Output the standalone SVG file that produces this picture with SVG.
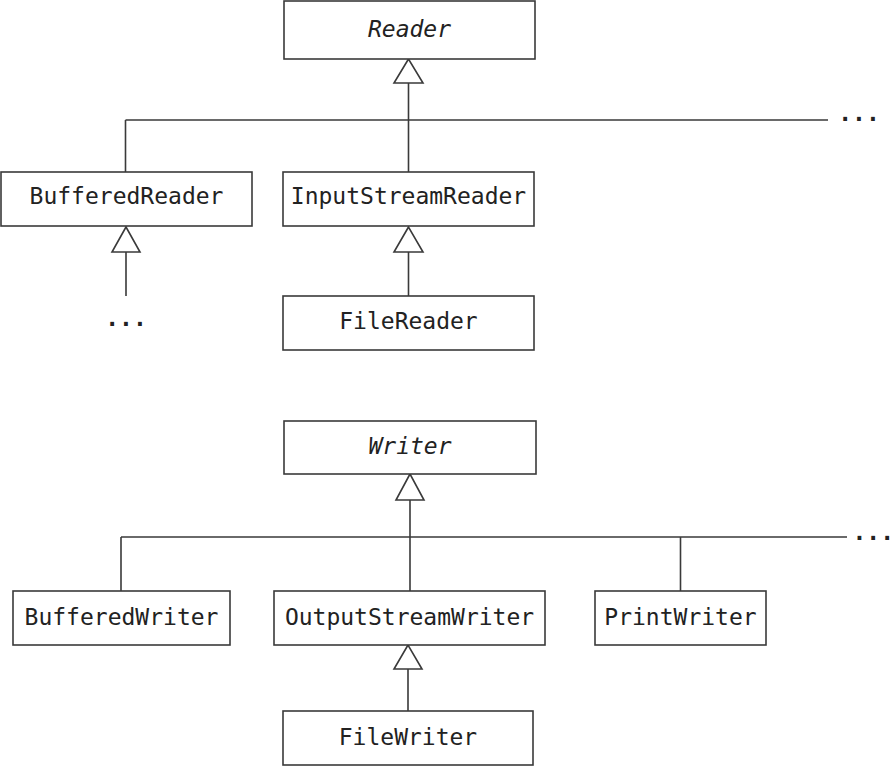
<svg xmlns="http://www.w3.org/2000/svg" width="895" height="766" viewBox="0 0 895 766">
<style>
.box{fill:#fff;stroke:#3a3a3a;stroke-width:1.6}
.t{font-family:"DejaVu Sans Mono","Liberation Mono",monospace;font-size:23px;fill:#222;text-anchor:middle}
.i{font-style:italic}
.d{font-weight:bold}
.ln{stroke:#3a3a3a;stroke-width:1.6;fill:none}
.tri{fill:#fff;stroke:#3a3a3a;stroke-width:1.6;stroke-linejoin:miter}
</style>
<rect width="895" height="766" fill="#fff"/>
<g id="connectors">
<path class="ln" d="M125.5 120H828M125.5 120V172M408.5 83V172M126 252V296M408.5 252V296"/>
<path class="tri" d="M408.5 59L394 83H423Z"/>
<path class="tri" d="M126 227L112 252H140Z"/>
<path class="tri" d="M408.5 227L394 252H423Z"/>
<path class="ln" d="M121 537H847M121 537V591M680.5 537V591M410 500V591M408 669V711"/>
<path class="tri" d="M410 474L396 500H424Z"/>
<path class="tri" d="M408 645L394 669H422Z"/>
<text class="t d" x="859" y="121">...</text>
<text class="t d" x="126" y="326">...</text>
<text class="t d" x="894" y="540" style="text-anchor:end">...</text>
</g>
<g id="Reader"><rect class="box" x="284" y="1" width="251" height="58"/><text class="t i" x="409.5" y="37">Reader</text></g>
<g id="BufferedReader"><rect class="box" x="1" y="172" width="251" height="54"/><text class="t" x="126.5" y="204">BufferedReader</text></g>
<g id="InputStreamReader"><rect class="box" x="283" y="172" width="251" height="54"/><text class="t" x="408.5" y="204">InputStreamReader</text></g>
<g id="FileReader"><rect class="box" x="283" y="296" width="251" height="54"/><text class="t" x="408.5" y="329">FileReader</text></g>
<g id="Writer"><rect class="box" x="284" y="421" width="252" height="53"/><text class="t i" x="410" y="454">Writer</text></g>
<g id="BufferedWriter"><rect class="box" x="13" y="591" width="217" height="54"/><text class="t" x="121.5" y="625">BufferedWriter</text></g>
<g id="OutputStreamWriter"><rect class="box" x="274" y="591" width="271" height="54"/><text class="t" x="409.5" y="625">OutputStreamWriter</text></g>
<g id="PrintWriter"><rect class="box" x="595" y="591" width="171" height="54"/><text class="t" x="680.5" y="625">PrintWriter</text></g>
<g id="FileWriter"><rect class="box" x="283" y="711" width="250" height="54"/><text class="t" x="408" y="745">FileWriter</text></g>
</svg>
